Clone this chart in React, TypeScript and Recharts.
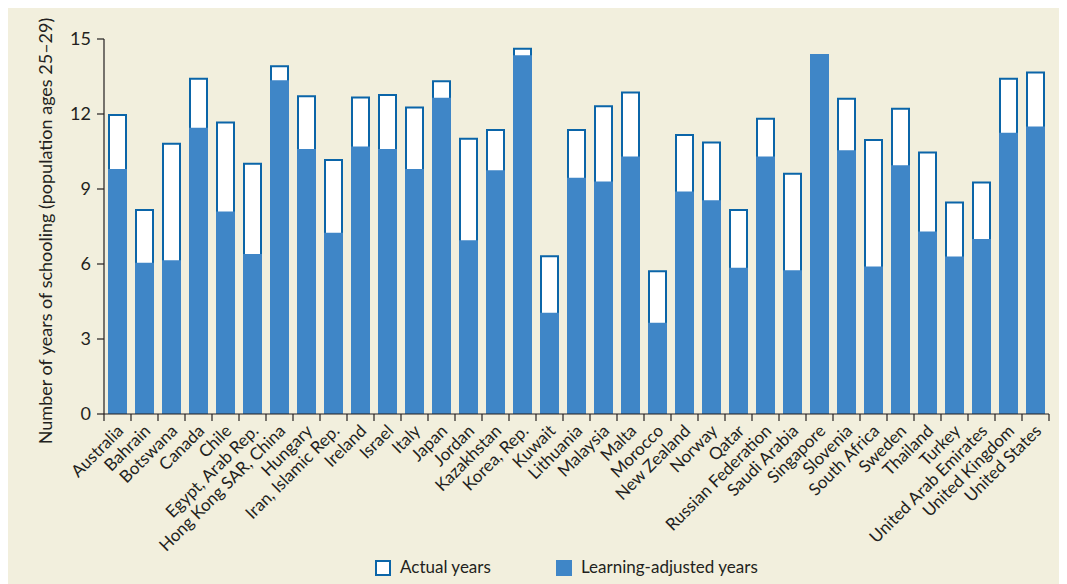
import React from 'react';
import { BarChart, Bar, XAxis, YAxis, Legend } from 'recharts';

const countries = [
  'Australia', 'Bahrain', 'Botswana', 'Canada', 'Chile', 'Egypt, Arab Rep.', 'Hong Kong SAR, China',
  'Hungary', 'Iran, Islamic Rep.', 'Ireland', 'Israel', 'Italy', 'Japan', 'Jordan', 'Kazakhstan',
  'Korea, Rep.', 'Kuwait', 'Lithuania', 'Malaysia', 'Malta', 'Morocco', 'New Zealand', 'Norway',
  'Qatar', 'Russian Federation', 'Saudi Arabia', 'Singapore', 'Slovenia', 'South Africa', 'Sweden',
  'Thailand', 'Turkey', 'United Arab Emirates', 'United Kingdom', 'United States',
];

const actualYears = [
  12.0, 8.2, 10.85, 13.45, 11.7, 10.05, 13.95, 12.75, 10.2, 12.7, 12.8, 12.3, 13.35, 11.05, 11.4,
  14.65, 6.35, 11.4, 12.35, 12.9, 5.75, 11.2, 10.9, 8.2, 11.85, 9.65, 14.4, 12.65, 11.0, 12.25,
  10.5, 8.5, 9.3, 13.45, 13.7,
];

const learningYears = [
  9.8, 6.05, 6.15, 11.45, 8.1, 6.4, 13.35, 10.6, 7.25, 10.7, 10.6, 9.8, 12.65, 6.95, 9.75,
  14.35, 4.05, 9.45, 9.3, 10.3, 3.65, 8.9, 8.55, 5.85, 10.3, 5.75, 14.4, 10.55, 5.9, 9.95,
  7.3, 6.3, 7.0, 11.25, 11.5,
];

const yTicks = [0, 3, 6, 9, 12, 15];

const data = countries.map((c, i) => ({ country: c, actual: actualYears[i], learning: learningYears[i] }));

const BG = '#f2efdd';
const TEXT = '#231f20';
const FILL = '#3f86c7';
const EDGE = '#0b65a8';
const FONT = 'Lato, sans-serif';

const W = 1059;
const H = 576;
const margin = { top: 31, right: 18, left: 36, bottom: 12 };
const yAxisW = 60;
const band = (W - margin.left - margin.right - yAxisW) / countries.length;

// white box with the stroke kept inside the bar
const ActualShape = (props: any) => {
  const { x, y, width, height } = props;
  if (!height || height <= 0) return null;
  return (
    <rect x={x + 1} y={y + 1} width={width - 2} height={height - 2} fill="#ffffff" stroke={EDGE} strokeWidth={2} />
  );
};

const XTick = (props: any) => {
  const { x, y, payload, index } = props;
  const last = index === countries.length - 1;
  const ax = x + 7;
  const ay = y + 18;
  return (
    <g>
      <line x1={x - band / 2} x2={x - band / 2} y1={y} y2={y + 7} stroke={TEXT} strokeWidth={1.2} />
      {last && <line x1={x + band / 2} x2={x + band / 2} y1={y} y2={y + 7} stroke={TEXT} strokeWidth={1.2} />}
      <text
        x={ax}
        y={ay}
        textAnchor="end"
        transform={`rotate(-45, ${ax}, ${ay})`}
        fontSize={17}
        fill={TEXT}
        fontFamily={FONT}
      >
        {payload.value}
      </text>
    </g>
  );
};

const LegendBox = () => (
  <div style={{ position: 'relative', height: 28, fontFamily: FONT, fontSize: 17, color: TEXT }}>
    <span style={{ position: 'absolute', left: 367, top: 2, width: 12, height: 12, background: '#fff', border: `2px solid ${EDGE}` }} />
    <span style={{ position: 'absolute', left: 392, top: -2 }}>Actual years</span>
    <span style={{ position: 'absolute', left: 548, top: 2, width: 16, height: 16, background: FILL }} />
    <span style={{ position: 'absolute', left: 573, top: -2 }}>Learning-adjusted years</span>
  </div>
);

const YLabel = () => (
  <text
    x={39}
    y={223}
    transform="rotate(-90, 39, 223)"
    textAnchor="middle"
    dominantBaseline="middle"
    fontSize={18}
    fill={TEXT}
    fontFamily={FONT}
  >
    Number of years of  schooling (population ages 25–29)
  </text>
);

export default function App() {
  return (
    <div style={{ width: W, height: H, background: BG, position: 'relative' }}>
      <BarChart width={W} height={H} data={data} margin={margin}>
        <XAxis
          xAxisId="a"
          dataKey="country"
          interval={0}
          tick={<XTick />}
          tickLine={false}
          tickSize={0}
          tickMargin={0}
          height={130}
          axisLine={{ stroke: TEXT, strokeWidth: 1.2 }}
        />
        <XAxis xAxisId="b" dataKey="country" hide />
        <YAxis
          domain={[0, 15]}
          ticks={yTicks}
          width={yAxisW}
          tickSize={7}
          tickMargin={6}
          tickLine={{ stroke: TEXT, strokeWidth: 1.2 }}
          axisLine={{ stroke: TEXT, strokeWidth: 1.2 }}
          tick={{ fontSize: 18, fill: TEXT, fontFamily: FONT }}
          label={{ content: () => <YLabel /> }}
        />
        <Bar xAxisId="a" dataKey="actual" barSize={19} shape={<ActualShape />} isAnimationActive={false} />
        <Bar xAxisId="b" dataKey="learning" barSize={19} fill={FILL} isAnimationActive={false} />
        <Legend
          content={() => <LegendBox />}
          wrapperStyle={{ position: 'absolute', left: 0, top: 550, width: W, height: 28 }}
        />
      </BarChart>
    </div>
  );
}
